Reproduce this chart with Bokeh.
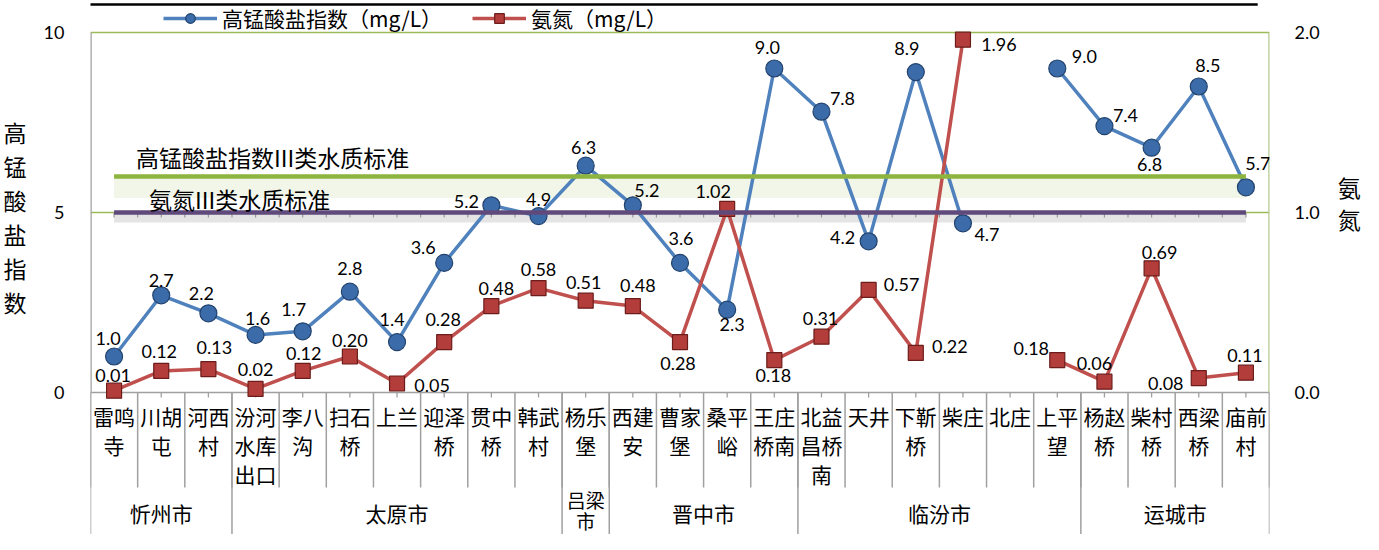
import numpy as np
from bokeh.plotting import figure
from bokeh.models import (Range1d, LinearAxis, FixedTicker, NumeralTickFormatter,
                          ColumnDataSource, Legend, LegendItem)
from bokeh.core.properties import value
from bokeh.embed import file_html
from bokeh.resources import INLINE

# ---------------- data ----------------
categories = ["雷鸣寺", "川胡屯", "河西村", "汾河水库出口", "李八沟", "扫石桥", "上兰",
              "迎泽桥", "贯中桥", "韩武村", "杨乐堡", "西建安", "曹家堡", "桑平峪",
              "王庄桥南", "北益昌桥南", "天井", "下靳桥", "柴庄", "北庄", "上平望",
              "杨赵桥", "柴村桥", "西梁桥", "庙前村"]
groups = ["忻州市", "太原市", "吕梁市", "晋中市", "临汾市", "运城市"]
group_sizes = [3, 7, 1, 4, 6, 4]
cod = [1.0, 2.7, 2.2, 1.6, 1.7, 2.8, 1.4, 3.6, 5.2, 4.9, 6.3, 5.2, 3.6, 2.3,
       9.0, 7.8, 4.2, 8.9, 4.7, None, 9.0, 7.4, 6.8, 8.5, 5.7]
nh3 = [0.01, 0.12, 0.13, 0.02, 0.12, 0.20, 0.05, 0.28, 0.48, 0.58, 0.51, 0.48, 0.28, 1.02,
       0.18, 0.31, 0.57, 0.22, 1.96, None, 0.18, 0.06, 0.69, 0.08, 0.11]
cod_std = 6.0
nh3_std = 1.0
left_ticks = [0, 5, 10]
right_ticks = [0.0, 1.0, 2.0]
cod_name = "高锰酸盐指数（mg/L）"
nh3_name = "氨氮（mg/L）"
cod_std_name = "高锰酸盐指数III类水质标准"
nh3_std_name = "氨氮III类水质标准"
left_title = "高锰酸盐指数"
right_title = "氨氮"

# ---------------- label placement (style, px offsets) ----------------
cod_off = [(-6, -18), (0, -15), (-7, -20), (2, -16), (-9, -22), (0, -23), (-5, -23),
           (-21, -15), (-25, -4), (0, -17), (-2, -18), (14, -15), (1, -24), (5, 15),
           (-7, -21), (21, -13), (-26, -4), (-9, -24), (24, 11), None, (27, -12),
           (21, -11), (-2, 17), (9, -21), (12, -24)]
nh3_off = [(-1, -15), (-2, -19), (6, -22), (0, -19), (1, -17), (0, -16), (35, 2),
           (-1, -23), (5, -18), (0, -19), (-2, -18), (5, -21), (-2, 21), (-14, -17),
           (-1, 15), (-1, -18), (33, -5), (34, -6), (36, 5), None, (-26, -12),
           (-10, -18), (8, -16), (-33, 5), (-1, -17)]

NUM_FONT = "Lato"
CJK_FONT = "Noto Sans CJK SC"
BLUE = "#4F81BD"
RED = "#C0504D"
GREEN = "#8DB43E"
PURPLE = "#604A7B"
GRID = "#9BBB59"
GRAY = "#A0A0A0"

n = len(categories)
xc = np.arange(n) + 0.5
cod_arr = np.array([np.nan if v is None else v for v in cod], dtype=float)
nh3_arr = np.array([np.nan if v is None else v for v in nh3], dtype=float)

W, H = 1363, 534
PX = 36.0      # px per left-axis unit
Y0 = 392.0     # canvas row of value 0
p = figure(width=W, height=H, x_range=Range1d(0, n), y_range=Range1d(-(H - Y0) / PX, Y0 / PX),
           output_backend="svg", toolbar_location=None, x_axis_location=None,
           min_border_left=88, min_border_right=W - 1272, min_border_top=0, min_border_bottom=0)
p.extra_y_ranges = {"nh": Range1d(-(H - Y0) / PX / 5, Y0 / PX / 5)}
p.outline_line_color = None
p.xgrid.visible = False
p.ygrid[0].ticker = FixedTicker(ticks=[5, 10])
p.ygrid[0].grid_line_color = GRID
p.ygrid[0].grid_line_width = 1.3

PAD = "\n\u3000"

# left axis
ya = p.yaxis[0]
ya.ticker = FixedTicker(ticks=left_ticks)
ya.bounds = (0, 10)
ya.axis_line_color = None
ya.major_tick_line_color = None
ya.minor_tick_line_color = None
ya.major_tick_out = 0
ya.major_tick_in = 0
ya.major_label_standoff = 26
ya.major_label_text_font = NUM_FONT
ya.major_label_text_font_size = "18px"
ya.major_label_text_color = "#000000"
ya.axis_label = "\n".join(left_title) + PAD * 3
ya.axis_label_orientation = "horizontal"
ya.axis_label_standoff = 14
ya.axis_label_text_font = CJK_FONT
ya.axis_label_text_font_size = "23px"
ya.axis_label_text_font_style = "normal"
ya.axis_label_text_line_height = 1.0
ya.axis_label_text_color = "#000000"

# right axis
ra = LinearAxis(y_range_name="nh", ticker=FixedTicker(ticks=right_ticks),
                formatter=NumeralTickFormatter(format="0.0"), bounds=(0, 2))
ra.axis_line_color = None
ra.major_tick_line_color = None
ra.minor_tick_line_color = None
ra.major_tick_out = 0
ra.major_tick_in = 0
ra.major_label_standoff = 25
ra.major_label_text_font = NUM_FONT
ra.major_label_text_font_size = "18px"
ra.major_label_text_color = "#000000"
ra.axis_label = "\n".join(right_title) + PAD * 4
ra.axis_label_orientation = "horizontal"
ra.axis_label_standoff = 15
ra.axis_label_text_font = CJK_FONT
ra.axis_label_text_font_size = "23px"
ra.axis_label_text_font_style = "normal"
ra.axis_label_text_line_height = 0.95
ra.axis_label_text_color = "#000000"
p.add_layout(ra, "right")

# ---------------- glows under standard lines ----------------
p.varea(x=xc, y1=np.full(n, cod_std - 0.6), y2=np.full(n, cod_std), fill_color="#EEF4E2", fill_alpha=0.8)
p.varea(x=xc, y1=np.full(n, nh3_std * 5 - 0.28), y2=np.full(n, nh3_std * 5), fill_color="#D8D8D8", fill_alpha=0.7)

# ---------------- table lines below plot ----------------
bottom = -(H - Y0 + 20) / PX
cat_bottom = -95 / PX
edges = np.arange(n + 1)
gedges = np.concatenate([[0], np.cumsum(group_sizes)])
p.segment(x0=edges, y0=np.zeros(n + 1), x1=edges, y1=np.full(n + 1, cat_bottom), line_color=GRAY, line_width=1.5)
p.segment(x0=gedges, y0=np.zeros(len(gedges)), x1=gedges, y1=np.full(len(gedges), bottom), line_color=GRAY, line_width=1.5)
p.segment(x0=[0, n], y0=[10, 10], x1=[0, n], y1=[0, 0], line_color=[GRAY, "#B5C98F"], line_width=2.5)
p.segment(x0=[0], y0=[0], x1=[n], y1=[0], line_color=GRAY, line_width=1.5)
# small tick marks
p.segment(x0=xc, y0=np.zeros(n), x1=xc, y1=np.full(n, -5 / PX), line_color=GRAY, line_width=1.3)
half = np.arange(1, 2 * n) / 2.0
p.segment(x0=half, y0=np.full(len(half), 5.0), x1=half, y1=np.full(len(half), 5 - 5 / PX), line_color="#9A9A9A", line_width=1.2)
# top rule
p.segment(x0=[-0.2], y0=[(Y0 - 4) / PX], x1=[24.75], y1=[(Y0 - 4) / PX], line_color="#000000", line_width=2.5)

# ---------------- series ----------------
bl = p.line(xc, cod_arr, line_color=BLUE, line_width=3.5)
rl = p.line(xc, nh3_arr, line_color=RED, line_width=3.5, y_range_name="nh")
bm = p.scatter(xc, cod_arr, marker="circle", size=17, fill_color="#3B6BA8", line_color="#22436E", line_width=1.2)
rm = p.scatter(xc, nh3_arr, marker="square", size=15, fill_color="#B33D3A", line_color="#6B1D1B", line_width=1.2, y_range_name="nh")

# standard lines (drawn on top like the original)
p.line(xc, np.full(n, cod_std), line_color=GREEN, line_width=4.5)
p.line(xc, np.full(n, nh3_std), line_color=PURPLE, line_width=4.5, y_range_name="nh")
p.text(x=[xc[0]], y=[cod_std], text=[cod_std_name], x_offset=[22], y_offset=[-20],
       text_font=value(CJK_FONT), text_font_size="23px", text_align="left", text_baseline="middle", text_color="#000000")
p.text(x=[xc[0]], y=[nh3_std], text=[nh3_std_name], x_offset=[35], y_offset=[-14], y_range_name="nh",
       text_font=value(CJK_FONT), text_font_size="23px", text_align="left", text_baseline="middle", text_color="#000000")

# ---------------- data labels ----------------
def label_src(vals, offs, fmt):
    xs, ys, ts, dx, dy = [], [], [], [], []
    for i, v in enumerate(vals):
        if v is None:
            continue
        xs.append(xc[i]); ys.append(v); ts.append(fmt % v)
        dx.append(offs[i][0]); dy.append(offs[i][1])
    return ColumnDataSource(dict(x=xs, y=ys, t=ts, dx=dx, dy=dy))

p.text(x="x", y="y", text="t", x_offset="dx", y_offset="dy", source=label_src(cod, cod_off, "%.1f"),
       text_font=value(NUM_FONT), text_font_size="18px", text_align="center", text_baseline="middle", text_color="#000000")
p.text(x="x", y="y", text="t", x_offset="dx", y_offset="dy", source=label_src(nh3, nh3_off, "%.2f"), y_range_name="nh",
       text_font=value(NUM_FONT), text_font_size="18px", text_align="center", text_baseline="middle", text_color="#000000")

# ---------------- category and group labels ----------------
cx, ct, cdy = [], [], []
for i, name in enumerate(categories):
    for k in range(0, len(name), 2):
        cx.append(xc[i]); ct.append(name[k:k + 2]); cdy.append(23 + 29 * (k // 2))
p.text(x=cx, y=[0] * len(cx), text=ct, y_offset=cdy, text_font=value(CJK_FONT), text_font_size="21px",
       text_align="center", text_baseline="middle", text_color="#000000")

gx, gt, gdy = [], [], []
nx, nt, ndy = [], [], []
for g, (name, size) in enumerate(zip(groups, group_sizes)):
    mid = (gedges[g] + gedges[g + 1]) / 2.0
    if size == 1:
        for j, k in enumerate(range(0, len(name), 2)):
            nx.append(mid); nt.append(name[k:k + 2]); ndy.append(107 + 21 * j)
    else:
        gx.append(mid); gt.append(name); gdy.append(120)
p.text(x=gx, y=[0] * len(gx), text=gt, y_offset=gdy, text_font=value(CJK_FONT), text_font_size="21px",
       text_align="center", text_baseline="middle", text_color="#000000")
p.text(x=nx, y=[0] * len(nx), text=nt, y_offset=ndy, text_font=value(CJK_FONT), text_font_size="19px",
       text_align="center", text_baseline="middle", text_color="#000000")

# ---------------- legend ----------------
legend = Legend(items=[LegendItem(label=cod_name, renderers=[bl, bm]),
                       LegendItem(label=nh3_name, renderers=[rl, rm])],
                orientation="horizontal", location=(73, H - 33),
                glyph_width=54, glyph_height=24, label_height=24, label_standoff=5, spacing=30,
                padding=0, margin=0, border_line_color=None, background_fill_alpha=0,
                label_text_font=CJK_FONT, label_text_font_size="21px", label_text_color="#000000")
p.add_layout(legend)

open("out.html", "w").write(file_html(p, INLINE))
